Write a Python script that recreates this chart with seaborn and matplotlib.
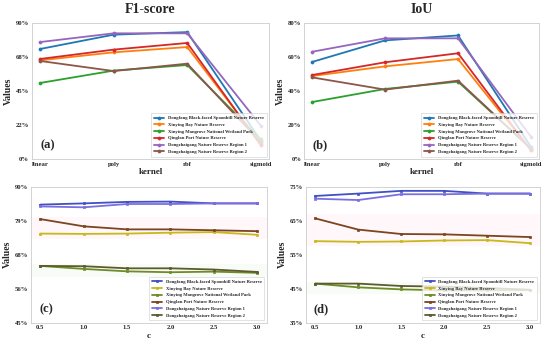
import numpy as np
import pandas as pd
import matplotlib
matplotlib.use("Agg")
import matplotlib.pyplot as plt
import seaborn as sns

sns.set_style("white")
plt.rcParams['font.family'] = ['Liberation Serif', 'DejaVu Serif']
plt.rcParams['font.weight'] = 'bold'

names = ["Dongfang Black-faced Spoonbill Nature Reserve",
         "Xinying Bay Nature Reserve",
         "Xinying Mangrove National Wetland Park",
         "Qinglan Port Nature Reserve",
         "Dongzhaigang Nature Reserve Region 1",
         "Dongzhaigang Nature Reserve Region 2"]

kernels = ["linear", "poly", "rbf", "sigmoid"]
c_values = [0.5, 1.0, 1.5, 2.0, 2.5, 3.0]

# F1-score by kernel
f1_dongfang = [0.728, 0.823, 0.840, 0.12]
f1_xybay = [0.653, 0.706, 0.741, 0.10]
f1_mangrove = [0.503, 0.585, 0.622, 0.13]
f1_qinglan = [0.662, 0.724, 0.768, 0.09]
f1_dzg1 = [0.774, 0.832, 0.832, 0.22]
f1_dzg2 = [0.649, 0.582, 0.631, 0.11]

# IoU by kernel
iou_dongfang = [0.571, 0.698, 0.727, 0.07]
iou_xybay = [0.488, 0.545, 0.588, 0.05]
iou_mangrove = [0.335, 0.412, 0.455, 0.06]
iou_qinglan = [0.494, 0.569, 0.622, 0.05]
iou_dzg1 = [0.631, 0.710, 0.710, 0.13]
iou_dzg2 = [0.480, 0.408, 0.461, 0.06]

# F1-score by c
f1c_dongfang = [0.841, 0.845, 0.850, 0.851, 0.845, 0.845]
f1c_xybay = [0.745, 0.744, 0.745, 0.748, 0.750, 0.741]
f1c_mangrove = [0.638, 0.628, 0.620, 0.617, 0.619, 0.615]
f1c_qinglan = [0.793, 0.769, 0.759, 0.759, 0.756, 0.753]
f1c_dzg1 = [0.835, 0.832, 0.843, 0.843, 0.845, 0.845]
f1c_dzg2 = [0.638, 0.637, 0.630, 0.630, 0.626, 0.618]

# IoU by c
iouc_dongfang = [0.723, 0.730, 0.738, 0.738, 0.730, 0.730]
iouc_xybay = [0.590, 0.588, 0.589, 0.592, 0.593, 0.584]
iouc_mangrove = [0.465, 0.454, 0.448, 0.445, 0.445, 0.446]
iouc_qinglan = [0.657, 0.624, 0.611, 0.610, 0.606, 0.602]
iouc_dzg1 = [0.715, 0.711, 0.728, 0.728, 0.730, 0.730]
iouc_dzg2 = [0.465, 0.465, 0.458, 0.456, 0.452, 0.447]

top_colors = ["#1f77b4", "#ff7f0e", "#2ca02c", "#d62728", "#9467bd", "#8c564b"]
bottom_colors = ["#3f51c4", "#c9b81a", "#6e8b28", "#7a4520", "#7b6fe0", "#5e5a2e"]

f1_ticks = [0.0, 0.225, 0.45, 0.675, 0.9]
f1_labels = ["0%", "22%", "45%", "68%", "90%"]
iou_ticks = [0.0, 0.2, 0.4, 0.6, 0.8]
iou_labels = ["0%", "20%", "40%", "60%", "80%"]
f1c_ticks = [0.45, 0.5625, 0.675, 0.7875, 0.9]
f1c_labels = ["45%", "56%", "68%", "79%", "90%"]
iouc_ticks = [0.35, 0.45, 0.55, 0.65, 0.75]
iouc_labels = ["35%", "45%", "55%", "65%", "75%"]

fig = plt.figure(figsize=(5.5, 3.44), dpi=100)
ax_a = fig.add_axes([0.058, 0.538, 0.431, 0.395])
ax_b = fig.add_axes([0.553, 0.538, 0.427, 0.395])
ax_c = fig.add_axes([0.056, 0.062, 0.429, 0.395])
ax_d = fig.add_axes([0.556, 0.062, 0.425, 0.395])

def draw(ax, xs, series, colors, marker, ms):
    for name, vals, col in zip(names, series, colors):
        df = pd.DataFrame({"x": xs, "y": vals})
        sns.lineplot(data=df, x="x", y="y", ax=ax, color=col, marker=marker,
                     markersize=ms, linewidth=1.3, markeredgewidth=0.5,
                     markeredgecolor=col, label=name, errorbar=None)

def style(ax, ticks, labels, ylim, xlabel, letter, title=None):
    ax.set_ylim(*ylim)
    ax.set_yticks(ticks)
    ax.set_yticklabels(labels, fontsize=4.8, fontweight='bold')
    for lab in ax.get_xticklabels():
        lab.set_fontsize(4.8)
        lab.set_fontweight('bold')
    ax.tick_params(axis='both', length=0, pad=2)
    ax.set_ylabel("Values", fontsize=7, fontweight='bold', labelpad=2)
    ax.set_xlabel(xlabel, fontsize=6.5, fontweight='bold', labelpad=1)
    for s in ax.spines.values():
        s.set_color("#cccccc")
        s.set_linewidth(0.6)
    if title:
        ax.set_title(title, fontsize=10, fontweight='bold', pad=7)
    ax.text(0.035, 0.1, letter, transform=ax.transAxes, fontsize=9,
            fontweight='bold', va='center', ha='left')
    leg = ax.legend(loc='lower right', fontsize=3.3, frameon=True,
                    borderpad=0.6, labelspacing=0.55, handlelength=2.2,
                    fancybox=False, edgecolor="#cccccc", framealpha=0.8)
    leg.get_frame().set_linewidth(0.5)
    for t in leg.get_texts():
        t.set_fontweight('bold')

kx = list(range(len(kernels)))
draw(ax_a, kx, [f1_dongfang, f1_xybay, f1_mangrove, f1_qinglan, f1_dzg1, f1_dzg2],
     top_colors, 'o', 2.2)
ax_a.set_xticks(kx)
ax_a.set_xticklabels(kernels)
ax_a.set_xlim(-0.11, 3.11)
style(ax_a, f1_ticks, f1_labels, (0, 0.9), "kernel", "(a)", "F1-score")

draw(ax_b, kx, [iou_dongfang, iou_xybay, iou_mangrove, iou_qinglan, iou_dzg1, iou_dzg2],
     top_colors, 'o', 2.2)
ax_b.set_xticks(kx)
ax_b.set_xticklabels(kernels)
ax_b.set_xlim(-0.11, 3.11)
style(ax_b, iou_ticks, iou_labels, (0, 0.8), "kernel", "(b)", "IoU")

ax_c.axhspan(0.728, 0.80, color="#ff9fb8", alpha=0.08, lw=0)
ax_c.axhspan(0.60, 0.645, color="#9fe39f", alpha=0.08, lw=0)
draw(ax_c, c_values, [f1c_dongfang, f1c_xybay, f1c_mangrove, f1c_qinglan, f1c_dzg1, f1c_dzg2],
     bottom_colors, 's', 2.0)
ax_c.set_xticks(c_values)
ax_c.set_xticklabels([f"{v:.1f}" for v in c_values])
ax_c.set_xlim(0.39, 3.11)
style(ax_c, f1c_ticks, f1c_labels, (0.45, 0.9), "c", "(c)")

ax_d.axhspan(0.575, 0.67, color="#ff9fb8", alpha=0.08, lw=0)
ax_d.axhspan(0.435, 0.47, color="#9fe39f", alpha=0.08, lw=0)
draw(ax_d, c_values, [iouc_dongfang, iouc_xybay, iouc_mangrove, iouc_qinglan, iouc_dzg1, iouc_dzg2],
     bottom_colors, 's', 2.0)
ax_d.set_xticks(c_values)
ax_d.set_xticklabels([f"{v:.1f}" for v in c_values])
ax_d.set_xlim(0.39, 3.11)
style(ax_d, iouc_ticks, iouc_labels, (0.35, 0.75), "c", "(d)")

fig.savefig("out.png", dpi=100)
